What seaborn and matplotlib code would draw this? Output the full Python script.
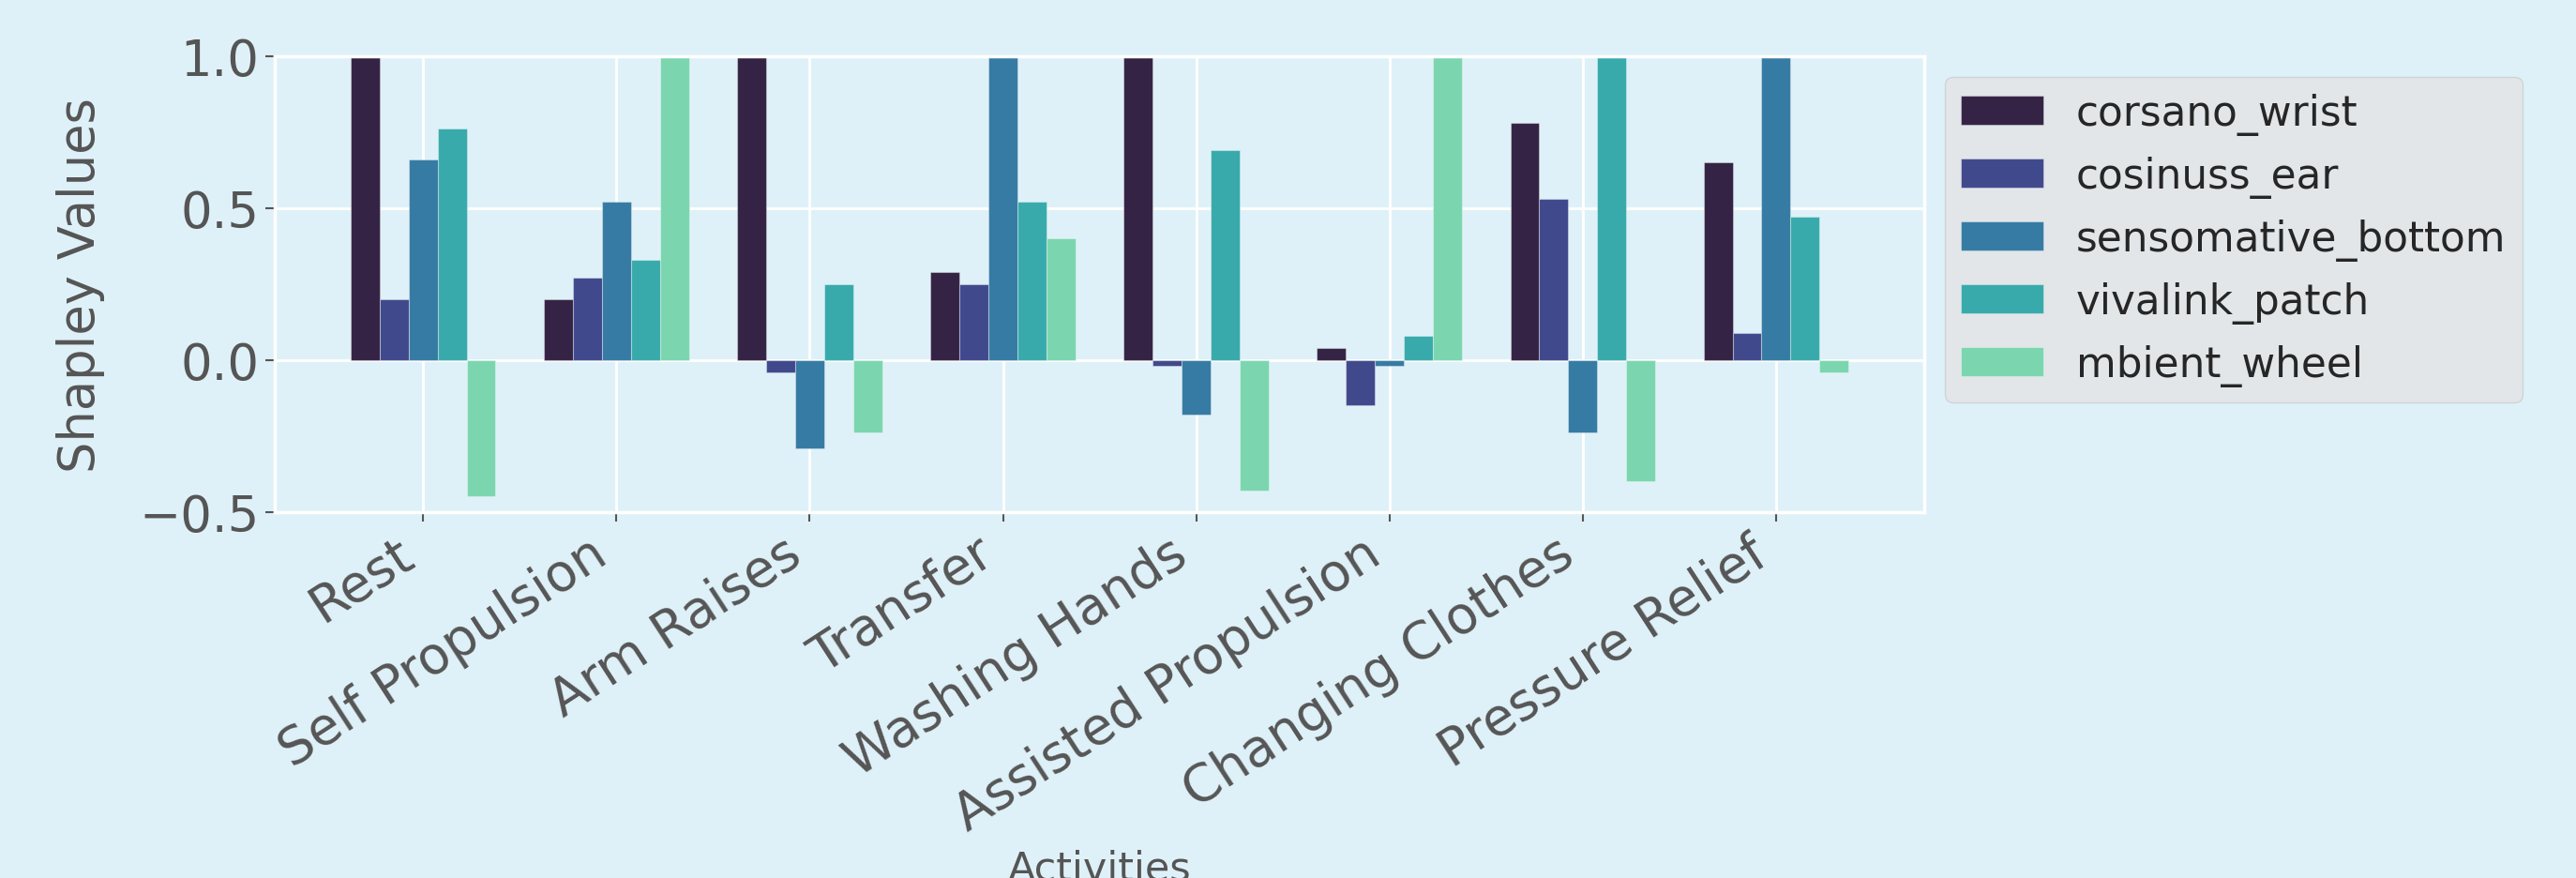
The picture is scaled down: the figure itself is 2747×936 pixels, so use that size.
import matplotlib
matplotlib.use("Agg")
import matplotlib.pyplot as plt
import pandas as pd
import seaborn as sns

# Activities on the x axis and the sensors compared within each activity
activities = ["Rest", "Self Propulsion", "Arm Raises", "Transfer", "Washing Hands",
              "Assisted Propulsion", "Changing Clothes", "Pressure Relief"]
sensors = ["corsano_wrist", "cosinuss_ear", "sensomative_bottom",
           "vivalink_patch", "mbient_wheel"]

# Normalised Shapley value of each sensor, one entry per activity
corsano_wrist = [1.00, 0.20, 1.00, 0.29, 1.00, 0.04, 0.78, 0.65]
cosinuss_ear = [0.20, 0.27, -0.04, 0.25, -0.02, -0.15, 0.53, 0.09]
sensomative_bottom = [0.66, 0.52, -0.29, 1.00, -0.18, -0.02, -0.24, 1.00]
vivalink_patch = [0.76, 0.33, 0.25, 0.52, 0.69, 0.08, 1.00, 0.47]
mbient_wheel = [-0.45, 1.00, -0.24, 0.40, -0.43, 1.00, -0.40, -0.04]

y_ticks = [-0.5, 0.0, 0.5, 1.0]

palette = ["#342344", "#40498c", "#367ba3", "#39aaac", "#7bd6af"]
bg = "#dff1f8"
text_grey = "#555555"

series = dict(zip(sensors, [corsano_wrist, cosinuss_ear, sensomative_bottom,
                            vivalink_patch, mbient_wheel]))
df = pd.DataFrame(series, index=activities)
df.index.name = "Activity"
long_df = df.reset_index().melt(id_vars="Activity", var_name="Sensor",
                                value_name="Shapley")

sns.set_theme(style="darkgrid", rc={
    "axes.facecolor": bg,
    "figure.facecolor": bg,
    "grid.color": "white",
    "axes.edgecolor": "white",
})
plt.rcParams["font.family"] = ["DejaVu Sans"]

fig = plt.figure(figsize=(27.47, 9.37), dpi=100)
ax = fig.add_axes([0.1067, 0.4166, 0.6403, 0.5186])

sns.barplot(data=long_df, x="Activity", y="Shapley", hue="Sensor",
            order=activities, hue_order=sensors, palette=palette,
            width=0.75, saturation=1, errorbar=None, ax=ax,
            linewidth=0.8, edgecolor=(1, 1, 1, 0.35))

ax.set_ylim(-0.5, 1.0)
ax.set_xlim(-0.767, len(activities) - 1 + 0.767)
ax.set_yticks(y_ticks)

ax.set_axisbelow(True)
ax.xaxis.grid(True, color="white", linewidth=2)
ax.yaxis.grid(True, color="white", linewidth=2)

for spine in ax.spines.values():
    spine.set_color("white")
    spine.set_linewidth(2.5)

ax.tick_params(axis="both", which="major", colors=text_grey,
               length=7, width=1.5, direction="out", bottom=True, left=True)
ax.tick_params(axis="y", labelsize=38, pad=5)
ax.tick_params(axis="x", labelsize=39.5, pad=5)
plt.setp(ax.get_xticklabels(), rotation=33, ha="right")

ax.set_ylabel("Shapley Values", fontsize=38, color=text_grey)
ax.yaxis.set_label_coords(-0.103, 0.5)
ax.set_xlabel("Activities", fontsize=31, color=text_grey)
ax.xaxis.set_label_coords(0.5, -0.738)

handles, labels = ax.get_legend_handles_labels()
ax.legend(handles, labels, loc="upper left", bbox_to_anchor=(1, 1),
          fontsize=31.5, frameon=True, facecolor="#e2e6e9",
          edgecolor="#cfd4d8", framealpha=1)

fig.savefig("out.png", dpi=100, facecolor=bg)
